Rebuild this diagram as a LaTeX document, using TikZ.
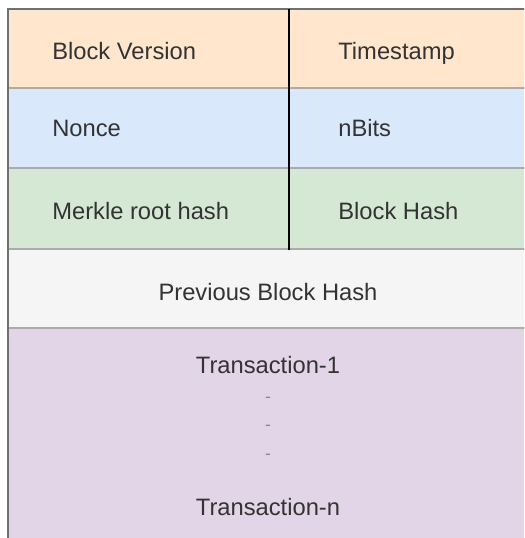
\documentclass[tikz,border=0pt]{standalone}
\usepackage{fontspec}
\setmainfont{Liberation Sans}
\usepackage{xcolor}
\usepackage{tikz}
\definecolor{hdrorange}{HTML}{FFE6CC}
\definecolor{hdrblue}{HTML}{DAE8FC}
\definecolor{hdrgreen}{HTML}{D5E8D4}
\definecolor{prevgray}{HTML}{F5F5F5}
\definecolor{txpurple}{HTML}{E1D5E7}
\definecolor{sep}{HTML}{ABABAB}
\definecolor{edge}{HTML}{707070}
\definecolor{ink}{HTML}{333333}
\definecolor{dashc}{HTML}{8A8A8A}
\tikzset{
  row/.style={draw=sep, line width=0.85pt},
  rim/.style={draw=edge, line width=1.1pt, line cap=rect},
  divider/.style={draw=black, line width=1.1pt},
  lab/.style={text=ink, inner sep=0pt, font=\fontsize{13.5pt}{16pt}\selectfont},
  dashlab/.style={text=dashc, inner sep=0pt, font=\fontsize{10pt}{11pt}\selectfont},
}

\begin{document}
\begin{tikzpicture}[x=0.2mm, y=-0.2mm]
  \useasboundingbox (0,0) rectangle (524,538);
  \clip (0,0) rectangle (524,538);
  \pgfmathsetmacro{\L}{8}   % left edge
  \pgfmathsetmacro{\R}{528} % right edge, just past the picture
  \pgfmathsetmacro{\C}{289} % column split
  % header rows
  \filldraw[row, fill=hdrorange] (\L,9) rectangle (\R,88);
  \filldraw[row, fill=hdrblue] (\L,88) rectangle (\R,168);
  \filldraw[row, fill=hdrgreen] (\L,168) rectangle (\R,249);
  \filldraw[row, fill=prevgray] (\L,249) rectangle (\R,328);
  \filldraw[row, fill=txpurple] (\L,328) rectangle (\R,548);
  \draw[rim] (\R,9) -- (\L,9) -- (\L,548);
  \coordinate (splittop) at (\C,9);
  \coordinate (splitbot) at (\C,250);
  \draw[divider] (splittop) -- (splitbot);
  % field names
  \node[lab, anchor=base west] (version) at (52,60) {Block Version};
  \node[lab, anchor=base west] (time) at (338,60) {Timestamp};
  \node[lab, anchor=base west] (nonce) at (52,137) {Nonce};
  \node[lab, anchor=base west] (bits) at (338,137) {nBits};
  \node[lab, anchor=base west] (merkle) at (52,220) {Merkle root hash};
  \node[lab, anchor=base west] (bhash) at (338,220) {Block Hash};
  \node[lab, anchor=base] (prev) at (268,300) {Previous Block Hash};
  % transactions
  \node[lab, anchor=base] (tx1) at (268,373) {Transaction-1};
  \foreach \y/\n in {400/a,428/b,457/c}
    \node[dashlab] (gap\n) at (268,\y) {-};
  \node[lab, anchor=base] (txn) at (268,515) {Transaction-n};
\end{tikzpicture}
\end{document}
